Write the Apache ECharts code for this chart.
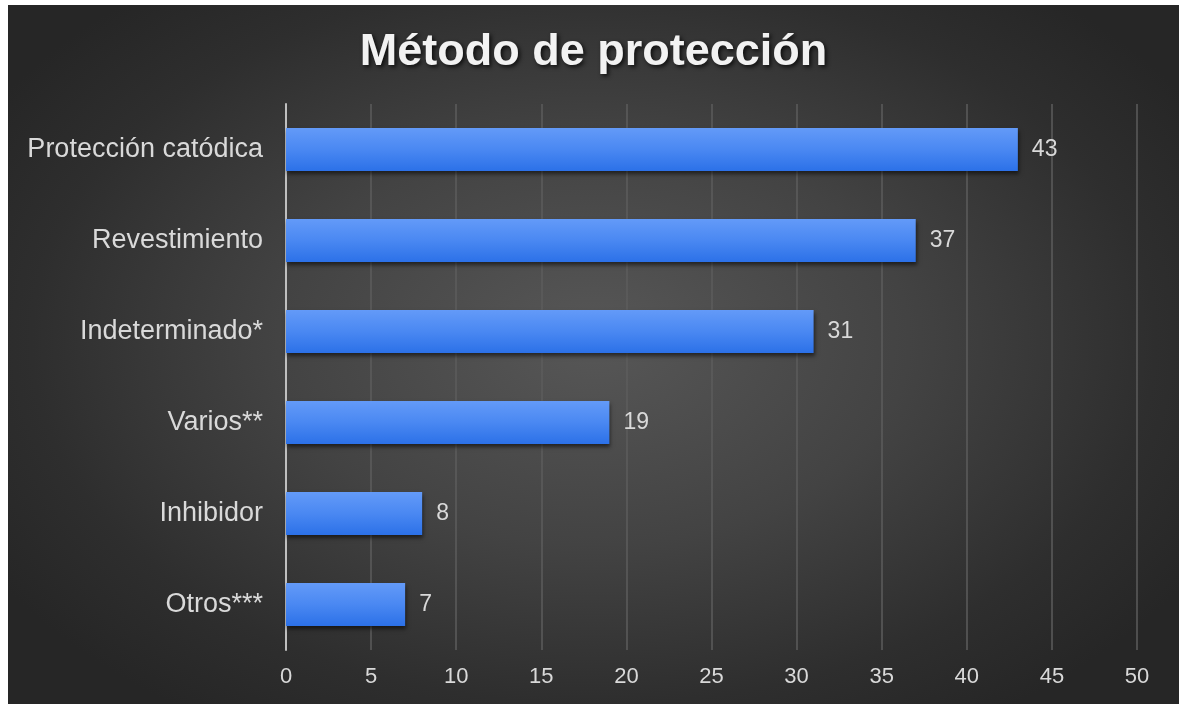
<!DOCTYPE html>
<html>
<head>
<meta charset="utf-8">
<script src="https://cdn.jsdelivr.net/npm/echarts@6/dist/echarts.min.js"></script>
<style>
  html, body { margin: 0; padding: 0; background: #ffffff; }
  #chart {
    position: absolute; left: 8px; top: 5px; width: 1171px; height: 699px;
    background: radial-gradient(ellipse 60% 65% at 50% 48%, #575757 0%, #434343 45%, #2e2e2e 80%, #262626 100%);
  }
</style>
</head>
<body>
<div id="chart"></div>
<script>
// Protection methods and their counts
const categories = ['Protección catódica', 'Revestimiento', 'Indeterminado*', 'Varios**', 'Inhibidor', 'Otros***'];
const counts = [43, 37, 31, 19, 8, 7];
const titleText = 'Método de protección';

const chart = echarts.init(document.getElementById('chart'), null, { renderer: 'canvas' });

chart.setOption({
  backgroundColor: 'transparent',
  animation: false,
  title: {
    text: titleText,
    left: 'center',
    top: 20,
    textStyle: {
      fontFamily: 'Liberation Sans, Arial, sans-serif',
      fontSize: 45,
      fontWeight: 'bold',
      color: '#f2f2f2',
      textShadowColor: 'rgba(0,0,0,0.75)',
      textShadowBlur: 4,
      textShadowOffsetX: 2,
      textShadowOffsetY: 2
    }
  },
  grid: { left: 278, right: 42, top: 99, bottom: 54, containLabel: false },
  xAxis: {
    type: 'value',
    min: 0,
    max: 50,
    interval: 5,
    axisLine: { show: false },
    axisTick: { show: false },
    splitLine: { show: true, lineStyle: { color: '#5c5c5c', width: 1.5 } },
    axisLabel: {
      color: '#d9d9d9',
      fontFamily: 'Liberation Sans, Arial, sans-serif',
      fontSize: 22,
      margin: 16
    }
  },
  yAxis: {
    type: 'category',
    data: categories,
    inverse: true,
    axisLine: { show: true, lineStyle: { color: '#bfbfbf', width: 2 } },
    axisTick: { show: false },
    splitLine: { show: false },
    axisLabel: {
      color: '#d9d9d9',
      fontFamily: 'Liberation Sans, Arial, sans-serif',
      fontSize: 27,
      margin: 23
    }
  },
  series: [{
    type: 'bar',
    data: counts,
    barCategoryGap: '53%',
    itemStyle: {
      color: new echarts.graphic.LinearGradient(0, 0, 0, 1, [
        { offset: 0, color: '#639af8' },
        { offset: 0.5, color: '#4a88f2' },
        { offset: 1, color: '#2c71e8' }
      ]),
      shadowColor: 'rgba(0,0,0,0.55)',
      shadowBlur: 4,
      shadowOffsetX: 1,
      shadowOffsetY: 3
    },
    label: {
      show: true,
      position: 'right',
      distance: 14,
      color: '#d9d9d9',
      fontFamily: 'Liberation Sans, Arial, sans-serif',
      fontSize: 23
    }
  }]
});
</script>
</body>
</html>
